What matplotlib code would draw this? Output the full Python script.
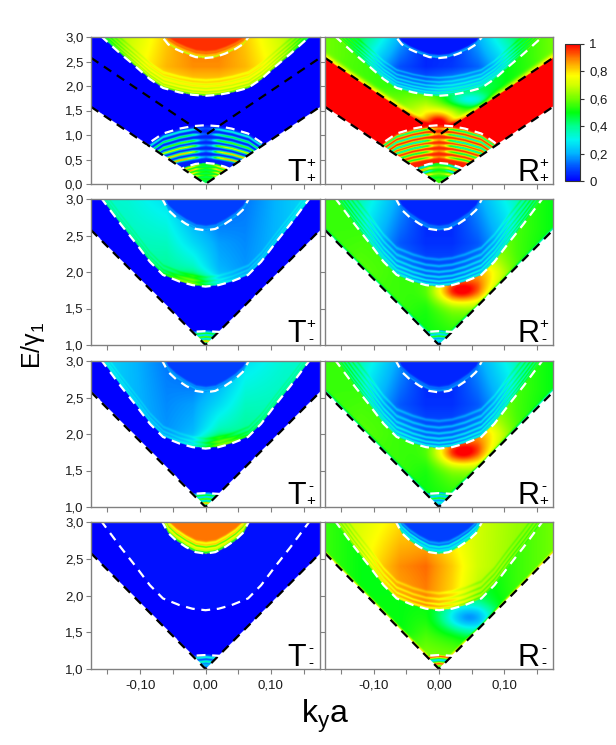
import numpy as np
import matplotlib
matplotlib.use('Agg')
import matplotlib.pyplot as plt
from matplotlib.colors import LinearSegmentedColormap
from matplotlib.ticker import FuncFormatter, FixedLocator

plt.rcParams['font.family'] = ['Liberation Sans', 'DejaVu Sans']
plt.rcParams['axes.unicode_minus'] = False
plt.rcParams['mathtext.fontset'] = 'custom'
plt.rcParams['mathtext.rm'] = 'Liberation Sans'
plt.rcParams['mathtext.it'] = 'Liberation Sans:italic'

# ------------------------------------------------------------------ data
KY_LIM = (-0.175, 0.175)
ROW_ELIM = [(0.0, 3.0), (1.0, 3.0), (1.0, 3.0), (1.0, 3.0)]
ROW_YTICKS = [[0.0, 0.5, 1.0, 1.5, 2.0, 2.5, 3.0],
              [1.0, 1.5, 2.0, 2.5, 3.0],
              [1.0, 1.5, 2.0, 2.5, 3.0],
              [1.0, 1.5, 2.0, 2.5, 3.0]]
X_MAJOR = [-0.10, 0.0, 0.10]
X_MINOR = [-0.15, -0.05, 0.05, 0.15]
CBAR_TICKS = [0, 0.2, 0.4, 0.6, 0.8, 1.0]
CBAR_LABELS = ['0', '0,2', '0,4', '0,6', '0,8', '1']
# panel labels: (letter, superscript, subscript)
PANEL_LABELS = [[('T', '+', '+'), ('R', '+', '+')],
                [('T', '+', '-'), ('R', '+', '-')],
                [('T', '-', '+'), ('R', '-', '+')],
                [('T', '-', '-'), ('R', '-', '-')]]

# black dashed edges (|k_y| , E)
EDGE_K = [0.0, 0.175]
EDGE0_E = [0.0, 1.575]      # row 1 lower edge
EDGE1_E = [1.0, 2.575]      # upper edge of row 1 / lower edge of rows 2-4
# white dashed curves (|k_y| , E)
W1_K = [0.0, 0.015, 0.03, 0.045, 0.057, 0.066, 0.08]
W1_E = [2.57, 2.59, 2.66, 2.75, 2.85, 3.0, 3.2]
W2_K = [0.0, 0.02, 0.04, 0.065, 0.085, 0.107, 0.13, 0.15, 0.16]
W2_E = [1.8, 1.82, 1.87, 1.96, 2.14, 2.4, 2.66, 2.9, 3.02]
C1_K = [0.0, 0.02, 0.04, 0.065, 0.085, 0.1]
C1_E = [1.2, 1.18, 1.13, 1.03, 0.85, 0.66]
C1_SHORT_K = [0.0, 0.02, 0.037]
C1_SHORT_E = [1.19, 1.18, 1.15]
C0_K = [0.0, 0.015, 0.03, 0.045]
C0_E = [0.43, 0.41, 0.35, 0.26]

K_NODES = [-0.175, -0.12, -0.06, -0.02, 0.02, 0.06, 0.12, 0.175]
COL_K = [0.0, 0.008, 0.018, 0.03]
COL_F = [0.15, 0.25, 0.8, 1.0]

# ---- T++
TPP_TOP = 0.96
TPP_TOP_STR = [(0.015, -0.3, 0.014), (0.06, -0.12, 0.02), (0.12, -0.06, 0.02)]
TPP_MID_E = [1.8, 2.4, 3.0]
TPP_MID = [[0.55, 0.62, 0.72, 0.75, 0.75, 0.72, 0.62, 0.55],
           [0.55, 0.72, 0.84, 0.88, 0.88, 0.84, 0.72, 0.55],
           [0.50, 0.68, 0.82, 0.90, 0.90, 0.82, 0.68, 0.50]]
TPP_MID_STR = [(0.02, -0.2, 0.013), (0.08, -0.12, 0.013), (0.15, -0.1, 0.014),
               (0.23, -0.08, 0.016), (0.32, -0.06, 0.018)]
TPP_GAP = 0.0
TPP_BAND = 0.0
TPP_CAP1 = 0.04
TPP_CAP1_STR = [(0.07, 0.3, 0.018), (0.18, 0.45, 0.018), (0.30, 0.55, 0.02),
                (0.41, 0.7, 0.02), (0.53, 0.82, 0.02), (0.65, 0.85, 0.02)]
TPP_CAP0 = 0.45
TPP_CAP0_STR = [(0.04, 0.4, 0.014), (0.11, 0.5, 0.014), (0.18, 0.4, 0.014),
                (0.25, 0.5, 0.014), (0.33, 0.4, 0.014)]
# ---- R++
RPP_TOP = 0.03
RPP_TOP_STR = [(0.015, 0.2, 0.012), (0.05, 0.12, 0.014)]
RPP_MID_E = [1.8, 2.4, 3.0]
RPP_MID = [[0.50, 0.35, 0.20, 0.20, 0.28, 0.30, 0.35, 0.50],
           [0.50, 0.30, 0.10, 0.05, 0.07, 0.12, 0.30, 0.50],
           [0.50, 0.45, 0.20, 0.05, 0.05, 0.20, 0.45, 0.50]]
RPP_MID_STR = [(0.02, 0.2, 0.011), (0.07, 0.15, 0.011), (0.13, 0.13, 0.012),
               (0.20, 0.12, 0.013), (0.28, 0.1, 0.014), (0.37, 0.08, 0.015)]
RPP_GAP_E = [1.0, 1.5, 2.0, 2.6]
RPP_GAP = [[0.72, 0.72, 0.74, 0.80, 0.80, 0.72, 0.62, 0.62],
           [0.62, 0.64, 0.64, 0.72, 0.64, 0.52, 0.56, 0.56],
           [0.56, 0.56, 0.54, 0.52, 0.42, 0.44, 0.52, 0.56],
           [0.60, 0.56, 0.52, 0.46, 0.46, 0.46, 0.52, 0.60]]
RPP_GAP_STR = [(0.0, 0.2, 0.06)]
RPP_GAP_BLOBS = [(0.045, 1.72, 0.022, 0.1, -0.2), (0.0, 1.25, 0.016, 0.15, 0.3)]
RPP_BAND = 1.0
RPP_CAP1 = 0.97
RPP_CAP1_STR = [(0.07, -0.6, 0.018), (0.18, -0.7, 0.018), (0.30, -0.7, 0.02),
                (0.41, -0.65, 0.02), (0.53, -0.55, 0.02), (0.65, -0.5, 0.02)]
RPP_CAP0 = 0.55
RPP_CAP0_STR = [(0.03, -0.4, 0.012), (0.09, 0.4, 0.013), (0.15, -0.4, 0.013),
                (0.22, 0.4, 0.013), (0.30, -0.35, 0.015)]
# ---- T+-
TPM_TOP = 0.08
TPM_TOP_STR = [(0.015, 0.12, 0.012), (0.05, 0.08, 0.014)]
TPM_MID_E = [1.8, 2.4, 3.0]
TPM_MID = [[0.36, 0.38, 0.42, 0.42, 0.22, 0.18, 0.22, 0.28],
           [0.35, 0.36, 0.35, 0.26, 0.18, 0.16, 0.22, 0.28],
           [0.35, 0.33, 0.27, 0.14, 0.10, 0.14, 0.22, 0.28]]
TPM_MID_STR = [(0.02, 0.08, 0.011), (0.07, 0.06, 0.011), (0.13, 0.05, 0.012)]
TPM_MID_BLOBS = [(-0.025, 1.88, 0.03, 0.08, 0.15)]
TPM_GAP = 0.0
TPM_CAP = 0.15
TPM_CAP_STR = [(0.04, 0.35, 0.012), (0.09, 0.45, 0.012), (0.15, 0.7, 0.015)]
# ---- R+-
RPM_TOP = 0.05
RPM_TOP_STR = [(0.015, 0.12, 0.012), (0.05, 0.08, 0.014)]
RPM_MID_E = [1.8, 2.4, 3.0]
RPM_MID = [[0.42, 0.32, 0.20, 0.14, 0.14, 0.18, 0.32, 0.42],
           [0.42, 0.28, 0.11, 0.06, 0.06, 0.11, 0.28, 0.42],
           [0.42, 0.36, 0.18, 0.05, 0.05, 0.18, 0.36, 0.42]]
RPM_MID_STR = [(0.02, 0.18, 0.011), (0.07, 0.16, 0.011), (0.13, 0.14, 0.012),
               (0.20, 0.12, 0.013), (0.28, 0.1, 0.014), (0.37, 0.08, 0.015)]
RPM_GAP_E = [1.0, 1.5, 2.0, 2.6]
RPM_GAP = [[0.46, 0.46, 0.46, 0.50, 0.50, 0.46, 0.46, 0.46],
           [0.55, 0.55, 0.55, 0.52, 0.60, 0.62, 0.50, 0.45],
           [0.55, 0.58, 0.55, 0.55, 0.70, 0.72, 0.56, 0.46],
           [0.55, 0.55, 0.55, 0.55, 0.62, 0.66, 0.56, 0.50]]
RPM_GAP_STR = [(0.0, -0.2, 0.02)]
RPM_GAP_BLOBS = [(0.033, 1.74, 0.026, 0.12, 0.35), (0.07, 1.95, 0.025, 0.15, 0.12)]
RPM_CAP = 0.15
RPM_CAP_STR = [(0.03, 0.3, 0.012), (0.08, 0.4, 0.012), (0.14, 0.2, 0.012)]
# ---- T-+
TMP_TOP = 0.08
TMP_TOP_STR = [(0.015, 0.12, 0.012), (0.05, 0.08, 0.014)]
TMP_MID_E = [1.8, 2.4, 3.0]
TMP_MID = [[0.28, 0.22, 0.18, 0.22, 0.42, 0.42, 0.38, 0.36],
           [0.28, 0.22, 0.16, 0.18, 0.26, 0.35, 0.36, 0.35],
           [0.28, 0.22, 0.14, 0.10, 0.14, 0.27, 0.33, 0.35]]
TMP_MID_STR = [(0.02, 0.08, 0.011), (0.07, 0.06, 0.011), (0.13, 0.05, 0.012)]
TMP_MID_BLOBS = [(0.025, 1.88, 0.03, 0.08, 0.15)]
TMP_GAP = 0.0
TMP_CAP = 0.15
TMP_CAP_STR = [(0.04, 0.35, 0.012), (0.09, 0.45, 0.012), (0.15, 0.7, 0.015)]
# ---- R-+
RMP_TOP = 0.05
RMP_TOP_STR = [(0.015, 0.12, 0.012), (0.05, 0.08, 0.014)]
RMP_MID_E = [1.8, 2.4, 3.0]
RMP_MID = [[0.42, 0.32, 0.20, 0.14, 0.14, 0.18, 0.32, 0.42],
           [0.42, 0.28, 0.11, 0.06, 0.06, 0.11, 0.28, 0.42],
           [0.42, 0.36, 0.18, 0.05, 0.05, 0.18, 0.36, 0.42]]
RMP_MID_STR = [(0.02, 0.18, 0.011), (0.07, 0.16, 0.011), (0.13, 0.14, 0.012),
               (0.20, 0.12, 0.013), (0.28, 0.1, 0.014), (0.37, 0.08, 0.015)]
RMP_GAP_E = [1.0, 1.5, 2.0, 2.6]
RMP_GAP = [[0.46, 0.46, 0.46, 0.50, 0.50, 0.46, 0.46, 0.46],
           [0.55, 0.55, 0.55, 0.52, 0.60, 0.62, 0.50, 0.45],
           [0.55, 0.58, 0.55, 0.55, 0.70, 0.72, 0.56, 0.46],
           [0.55, 0.55, 0.55, 0.55, 0.62, 0.66, 0.56, 0.50]]
RMP_GAP_STR = [(0.0, -0.2, 0.02)]
RMP_GAP_BLOBS = [(0.035, 1.74, 0.026, 0.12, 0.35), (0.07, 1.95, 0.025, 0.15, 0.12)]
RMP_CAP = 0.15
RMP_CAP_STR = [(0.03, 0.3, 0.012), (0.08, 0.4, 0.012), (0.14, 0.2, 0.012)]
# ---- T--
TMM_TOP = 0.9
TMM_TOP_STR = [(0.015, -0.45, 0.012), (0.05, -0.2, 0.012), (0.09, -0.35, 0.012),
               (0.14, -0.15, 0.015)]
TMM_MID = 0.02
TMM_GAP = 0.0
TMM_CAP = 0.08
TMM_CAP_STR = [(0.04, 0.25, 0.012), (0.10, 0.3, 0.012), (0.15, 0.15, 0.015)]
# ---- R--
RMM_TOP = 0.08
RMM_TOP_STR = [(0.015, 0.35, 0.012), (0.05, 0.2, 0.012), (0.09, 0.25, 0.012),
               (0.14, 0.1, 0.015)]
RMM_MID_E = [1.8, 2.4, 3.0]
RMM_MID = [[0.68, 0.75, 0.84, 0.88, 0.80, 0.66, 0.56, 0.56],
           [0.68, 0.75, 0.88, 0.91, 0.82, 0.70, 0.63, 0.60],
           [0.65, 0.72, 0.80, 0.80, 0.74, 0.70, 0.64, 0.62]]
RMM_MID_STR = [(0.02, -0.12, 0.011), (0.08, -0.1, 0.011), (0.15, -0.08, 0.013),
               (0.23, -0.06, 0.015)]
RMM_GAP_E = [1.0, 1.5, 2.0, 2.6]
RMM_GAP = [[0.64, 0.62, 0.62, 0.64, 0.64, 0.62, 0.62, 0.64],
           [0.55, 0.52, 0.50, 0.56, 0.52, 0.46, 0.55, 0.60],
           [0.55, 0.50, 0.50, 0.50, 0.45, 0.46, 0.55, 0.60],
           [0.55, 0.50, 0.50, 0.50, 0.46, 0.50, 0.55, 0.60]]
RMM_GAP_STR = [(0.0, 0.25, 0.02)]
RMM_GAP_BLOBS = [(0.045, 1.7, 0.028, 0.13, -0.3)]
RMM_CAP = 0.55
RMM_CAP_STR = [(0.03, 0.4, 0.012), (0.08, -0.3, 0.012), (0.13, 0.4, 0.012)]

CMAP_STOPS = [(0.0, '#0000ff'), (0.1, '#0050ff'), (0.2, '#00b4ff'), (0.3, '#00f5f0'),
              (0.4, '#00ff90'), (0.5, '#00ff10'), (0.6, '#70ff00'), (0.7, '#d0ff00'),
              (0.77, '#ffff00'), (0.88, '#ff9000'), (1.0, '#ff0000')]


def reg(base, e_nodes=None, stripes=(), blobs=(), column=False):
    return dict(base=base, e_nodes=e_nodes, stripes=stripes, blobs=blobs, column=column)


SPECS = [
    [dict(top=reg(TPP_TOP, stripes=TPP_TOP_STR), mid=reg(TPP_MID, TPP_MID_E, TPP_MID_STR),
          gap=reg(TPP_GAP), band=reg(TPP_BAND),
          cap1=reg(TPP_CAP1, stripes=TPP_CAP1_STR, column=True),
          cap0=reg(TPP_CAP0, stripes=TPP_CAP0_STR, column=True)),
     dict(top=reg(RPP_TOP, stripes=RPP_TOP_STR), mid=reg(RPP_MID, RPP_MID_E, RPP_MID_STR),
          gap=reg(RPP_GAP, RPP_GAP_E, RPP_GAP_STR, RPP_GAP_BLOBS), band=reg(RPP_BAND),
          cap1=reg(RPP_CAP1, stripes=RPP_CAP1_STR, column=True),
          cap0=reg(RPP_CAP0, stripes=RPP_CAP0_STR, column=True))],
    [dict(top=reg(TPM_TOP, stripes=TPM_TOP_STR),
          mid=reg(TPM_MID, TPM_MID_E, TPM_MID_STR, TPM_MID_BLOBS),
          gap=reg(TPM_GAP), cap1=reg(TPM_CAP, stripes=TPM_CAP_STR)),
     dict(top=reg(RPM_TOP, stripes=RPM_TOP_STR), mid=reg(RPM_MID, RPM_MID_E, RPM_MID_STR),
          gap=reg(RPM_GAP, RPM_GAP_E, RPM_GAP_STR, RPM_GAP_BLOBS),
          cap1=reg(RPM_CAP, stripes=RPM_CAP_STR))],
    [dict(top=reg(TMP_TOP, stripes=TMP_TOP_STR),
          mid=reg(TMP_MID, TMP_MID_E, TMP_MID_STR, TMP_MID_BLOBS),
          gap=reg(TMP_GAP), cap1=reg(TMP_CAP, stripes=TMP_CAP_STR)),
     dict(top=reg(RMP_TOP, stripes=RMP_TOP_STR), mid=reg(RMP_MID, RMP_MID_E, RMP_MID_STR),
          gap=reg(RMP_GAP, RMP_GAP_E, RMP_GAP_STR, RMP_GAP_BLOBS),
          cap1=reg(RMP_CAP, stripes=RMP_CAP_STR))],
    [dict(top=reg(TMM_TOP, stripes=TMM_TOP_STR), mid=reg(TMM_MID),
          gap=reg(TMM_GAP), cap1=reg(TMM_CAP, stripes=TMM_CAP_STR)),
     dict(top=reg(RMM_TOP, stripes=RMM_TOP_STR), mid=reg(RMM_MID, RMM_MID_E, RMM_MID_STR),
          gap=reg(RMM_GAP, RMM_GAP_E, RMM_GAP_STR, RMM_GAP_BLOBS),
          cap1=reg(RMM_CAP, stripes=RMM_CAP_STR))],
]


# ------------------------------------------------------------------ helpers
def curve(K, ks, es):
    return np.interp(np.abs(K), ks, es)


def mirror(ks, es):
    ks = np.asarray(ks); es = np.asarray(es)
    return np.concatenate([-ks[::-1], ks[1:]]), np.concatenate([es[::-1], es[1:]])


def base_value(r, K, E):
    b = r['base']
    if np.isscalar(b):
        return np.full(K.shape, float(b))
    rows = np.array([np.interp(K[0], K_NODES, row) for row in b])
    out = np.empty(K.shape)
    for j in range(K.shape[1]):
        out[:, j] = np.interp(E[:, 0], r['e_nodes'], rows[:, j])
    return out


def build_field(row, spec, K, E):
    w1 = curve(K, W1_K, W1_E)
    w2 = curve(K, W2_K, W2_E)
    c1 = curve(K, C1_K, C1_E)
    regions = {'top': (E >= w1, E - w1), 'mid': ((E >= w2) & (E < w1), E - w2)}
    if row == 0:
        b0 = curve(K, EDGE_K, EDGE0_E)
        l2 = curve(K, EDGE_K, EDGE1_E)
        c0 = curve(K, C0_K, C0_E)
        regions['gap'] = ((E < w2) & (E >= c1) & (E >= l2), E - l2)
        regions['band'] = ((E < l2) & (E >= c1), E - b0)
        regions['cap1'] = ((E < c1) & (E >= c0), c1 - E)
        regions['cap0'] = (E < c0, c0 - E)
    else:
        b0 = curve(K, EDGE_K, EDGE1_E)
        regions['gap'] = ((E < w2) & (E >= c1), E - b0)
        regions['cap1'] = (E < c1, c1 - E)
    val = np.full(K.shape, np.nan)
    colf = np.interp(np.abs(K), COL_K, COL_F)
    for name, (mask, d) in regions.items():
        r = spec[name]
        v = base_value(r, K, E)
        scale = colf if r['column'] else 1.0
        for off, amp, sig in r['stripes']:
            v = v + scale * amp * np.exp(-0.5 * ((d - off) / sig) ** 2)
        for k0, e0, rk, re, amp in r['blobs']:
            v = v + amp * np.exp(-0.5 * (((K - k0) / rk) ** 2 + ((E - e0) / re) ** 2))
        val[mask] = v[mask]
    val[E < b0] = np.nan
    return np.clip(val, 0, 1)


cmap = LinearSegmentedColormap.from_list('origin_rainbow', CMAP_STOPS)
cmap.set_bad((1, 1, 1, 0))

# ------------------------------------------------------------------ figure
W, H = 616, 745
fig = plt.figure(figsize=(W / 100, H / 100), dpi=100)
COL_X = [(91, 320), (325, 553)]
ROW_Y = [(37, 184), (199, 345), (361, 507), (522, 669)]
GRAY = '#808080'
PX = 100 / 72.0  # pixels per point

yfmt = FuncFormatter(lambda v, p: f'{v:.1f}'.replace('.', ','))
xfmt = FuncFormatter(lambda v, p: f'{v:.2f}'.replace('.', ','))


def fx(px):
    return px / W


def fy(py):
    return 1 - py / H


def panel_label(xr, yb, letter, sup, sub):
    big, small = 22, 11
    fig.text(fx(xr - 14), fy(yb - 3), letter, fontsize=big, ha='right', va='baseline',
             zorder=10)
    # super- and subscript stacked in one two-line text (baseline = last line)
    base_sub = yb - 7.5 + 0.354 * small * PX
    fig.text(fx(xr - 9), fy(base_sub), sup + '\n' + sub, fontsize=small, ha='center',
             va='baseline', multialignment='center', linespacing=1.1, zorder=10)


NK, NE = 460, 300
kk = np.linspace(KY_LIM[0], KY_LIM[1], NK)
im = None
for ri, (yt, yb) in enumerate(ROW_Y):
    e0, e1 = ROW_ELIM[ri]
    ee = np.linspace(e0, e1, NE)
    K, E = np.meshgrid(kk, ee)
    for ci, (xl, xr) in enumerate(COL_X):
        ax = fig.add_axes([xl / W, 1 - yb / H, (xr - xl) / W, (yb - yt) / H])
        Z = build_field(ri, SPECS[ri][ci], K, E)
        im = ax.imshow(Z, extent=[KY_LIM[0], KY_LIM[1], e0, e1], origin='lower',
                       aspect='auto', cmap=cmap, vmin=0, vmax=1, interpolation='bilinear')
        dk = dict(dashes=(4, 3), lw=1.6)
        if ri == 0:
            ax.plot(*mirror(EDGE_K, EDGE0_E), color='black', **dk)
            ax.plot(*mirror(EDGE_K, EDGE1_E), color='black', **dk)
            ax.plot(*mirror(C1_K, C1_E), color='white', **dk)
            ax.plot(*mirror(C0_K, C0_E), color='white', **dk)
        else:
            ax.plot(*mirror(EDGE_K, EDGE1_E), color='black', **dk)
            ax.plot(*mirror(C1_SHORT_K, C1_SHORT_E), color='white', **dk)
        ax.plot(*mirror(W2_K, W2_E), color='white', **dk)
        ax.plot(*mirror(W1_K, W1_E), color='white', **dk)
        ax.set_xlim(*KY_LIM)
        ax.set_ylim(e0, e1)
        for s in ax.spines.values():
            s.set_color(GRAY)
            s.set_linewidth(1.0)
            s.set_zorder(5)
        ax.xaxis.set_major_locator(FixedLocator(X_MAJOR))
        ax.xaxis.set_minor_locator(FixedLocator(X_MINOR))
        ax.yaxis.set_major_locator(FixedLocator(ROW_YTICKS[ri]))
        ax.tick_params(which='both', direction='out', length=3.5, width=0.8, color=GRAY,
                       labelsize=9.5, labelcolor='#1a1a1a', top=False, right=False, pad=2)
        ax.xaxis.set_major_formatter(xfmt)
        ax.yaxis.set_major_formatter(yfmt)
        if ri != 3:
            ax.tick_params(axis='x', labelbottom=False)
        else:
            ax.tick_params(axis='x', pad=4)
        if ci == 1:
            ax.tick_params(axis='y', labelleft=False)
        panel_label(xr, yb, *PANEL_LABELS[ri][ci])

# colorbar
cax = fig.add_axes([565 / W, 1 - 181 / H, 15 / W, 137 / H])
cb = fig.colorbar(im, cax=cax, ticks=CBAR_TICKS)
cb.ax.set_yticklabels(CBAR_LABELS)
cb.outline.set_edgecolor('#333333')
cb.outline.set_linewidth(0.8)
cb.ax.tick_params(length=3, width=0.8, color='#333333', labelsize=9.5, labelcolor='#1a1a1a')

fig.text(33 / W, 1 - 345 / H, r'E/γ$_\mathregular{1}$', rotation=90, fontsize=18,
         ha='center', va='center')
fig.text(325 / W, 1 - 716 / H, r'$\mathregular{k_ya}$', fontsize=23, ha='center',
         va='center')

fig.savefig('out.png', dpi=100)
